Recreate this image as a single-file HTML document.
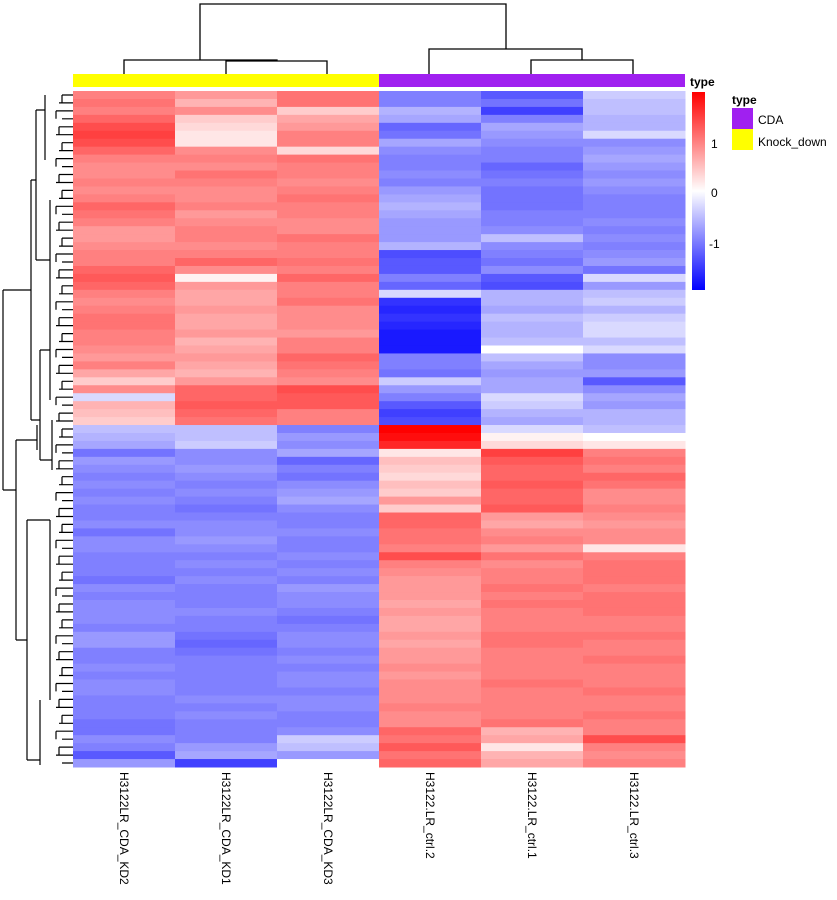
<!DOCTYPE html>
<html><head><meta charset="utf-8"><style>
html,body{margin:0;padding:0;background:#fff;}
svg{display:block;font-family:"Liberation Sans",Arial,sans-serif;}
</style></head><body>
<svg id="chart" width="837" height="900" viewBox="0 0 837 900" xmlns="http://www.w3.org/2000/svg">
<g id="coldend" stroke="#000" stroke-width="1.3" fill="none">
<path d="M124 74V60H277V61 M226 74V61H327V74 M200 60V4H506V49 M429 74V49H582V60 M531 74V60H633V74"/>
</g>
<rect x="73" y="74" width="306" height="13" fill="#ffff00"/>
<rect x="379" y="74" width="306" height="13" fill="#a020f0"/>
<g id="cells"></g>
<g id="rowdend" stroke="#000" stroke-width="1.2" fill="none"></g>
<g id="collabels"></g>
<g>
<text x="690" y="86" font-size="12" font-weight="bold">type</text>
<defs><linearGradient id="cg" x1="0" y1="0" x2="0" y2="1"><stop offset="0" stop-color="#ff0000"/><stop offset="0.5" stop-color="#ffffff"/><stop offset="1" stop-color="#0000ff"/></linearGradient></defs>
<rect x="692" y="92" width="13" height="198" fill="url(#cg)"/>
<text x="711" y="148" font-size="12">1</text>
<text x="711" y="197" font-size="12">0</text>
<text x="709" y="248" font-size="12">-1</text>
</g>
<g>
<text x="732" y="104" font-size="12" font-weight="bold">type</text>
<rect x="732" y="108" width="21" height="21" fill="#a020f0"/>
<rect x="732" y="129" width="21" height="21" fill="#ffff00"/>
<text x="758" y="124" font-size="12">CDA</text>
<text x="758" y="146" font-size="12">Knock_down</text>
</g>
</svg>
<script>
const columns = ["H3122LR_CDA_KD2","H3122LR_CDA_KD1","H3122LR_CDA_KD3","H3122.LR_ctrl.2","H3122.LR_ctrl.1","H3122.LR_ctrl.3"];
const kd2 = [1.0,1.1,1.0,1.2,1.4,1.5,1.4,1.2,1.0,0.9, 0.9,1.0,0.9,1.0,1.2,1.1,1.0,0.8,0.8,0.9, 1.0,1.0,1.2,1.3,1.2,1.0,0.9,1.0,1.1,1.1, 1.0,1.0,0.9,0.8,1.0,0.7,0.4,0.9,-0.3,0.6, 0.5,0.4,-0.5,-0.6,-0.7,-1.1,-0.8,-0.9,-1.0,-0.9, -1.0,-0.9,-1.0,-1.0,-0.9,-1.1,-0.9,-0.9,-1.0,-1.0, -1.0,-1.1,-0.9,-1.0,-0.9,-0.9,-0.9,-1.0,-0.8,-0.8, -1.0,-1.0,-0.9,-1.0,-0.9,-0.9,-1.0,-1.0,-1.0,-1.1, -1.1,-0.9,-1.0,-1.3,-0.8];
const kd1 = [0.8,0.6,0.9,0.4,0.3,0.2,0.2,0.9,1.0,0.9, 1.1,1.0,0.9,0.9,1.0,0.8,0.9,1.0,1.0,0.9, 1.0,1.2,0.9,0.1,0.8,0.7,0.7,0.8,0.7,0.7, 0.8,0.6,0.7,0.8,0.7,0.6,0.8,1.2,1.2,1.3, 1.2,1.1,-0.5,-0.5,-0.4,-0.9,-0.9,-0.8,-0.9,-1.0, -0.9,-1.0,-1.1,-1.0,-0.9,-0.9,-0.8,-0.9,-1.0,-0.9, -1.0,-0.9,-1.0,-1.0,-1.0,-0.9,-1.0,-1.0,-1.1,-1.2, -1.1,-1.0,-1.0,-1.0,-1.0,-1.0,-0.9,-1.0,-0.9,-1.0, -1.0,-1.0,-0.8,-0.7,-1.5];
const kd3 = [1.1,1.1,0.4,0.7,0.8,1.0,1.0,0.3,1.1,1.0, 1.0,0.9,1.0,1.1,1.0,1.0,0.9,0.9,1.1,1.0, 1.0,1.1,1.0,1.2,1.0,1.0,1.1,0.9,0.9,0.9, 0.8,1.0,1.0,1.2,1.1,1.0,0.9,1.4,1.3,1.3, 1.0,1.0,-1.0,-0.8,-0.9,-0.7,-1.2,-1.0,-1.1,-0.9, -0.8,-0.7,-0.9,-1.0,-1.0,-0.9,-1.0,-1.0,-0.9,-1.0, -0.9,-1.0,-0.8,-0.9,-0.9,-1.0,-1.1,-1.0,-0.9,-0.9, -1.0,-0.9,-1.0,-0.9,-0.9,-1.0,-0.9,-0.9,-1.0,-1.0, -0.9,-0.4,-0.5,-0.8,0.0];
const ctrl2 = [-1.0,-1.0,-0.6,-0.7,-1.2,-1.1,-0.7,-0.9,-1.0,-1.0, -0.9,-1.0,-0.8,-0.7,-0.6,-0.7,-0.8,-0.8,-0.8,-0.6, -1.4,-1.3,-1.3,-1.0,-1.2,-0.3,-1.6,-1.7,-1.6,-1.7, -1.8,-1.8,-1.8,-1.0,-1.0,-1.1,-0.4,-0.8,-1.0,-1.3, -1.5,-1.4,2.0,1.9,1.7,0.2,0.5,0.4,0.3,0.5, 0.4,0.8,0.4,1.2,1.2,1.1,1.1,1.0,1.4,1.0, 0.9,0.8,0.8,0.8,0.7,0.8,0.7,0.7,0.8,0.7, 0.8,0.8,0.9,0.8,0.9,0.9,0.9,1.0,0.9,0.9, 1.2,1.1,1.3,1.1,1.2];
const ctrl1 = [-1.3,-1.1,-1.5,-1.0,-0.7,-0.8,-0.9,-1.0,-1.0,-1.2, -1.1,-1.0,-1.1,-1.1,-1.1,-1.0,-1.0,-0.9,-0.5,-0.9, -1.0,-1.1,-0.9,-1.3,-1.4,-0.6,-0.6,-0.7,-0.5,-0.6, -0.6,-0.5,0.0,-0.5,-0.7,-0.8,-0.7,-0.7,-0.3,-0.4, -0.6,-0.7,-0.3,0.1,0.3,1.5,1.3,1.2,1.2,1.3, 1.2,1.2,1.3,0.8,0.7,0.9,1.0,0.8,1.1,0.9, 1.0,1.0,1.1,1.0,1.1,1.0,1.0,1.0,1.1,1.1, 1.0,1.0,1.0,1.0,1.1,1.0,1.0,1.0,1.0,1.1, 0.6,0.7,0.2,0.6,0.7];
const ctrl3 = [-0.4,-0.5,-0.5,-0.6,-0.6,-0.3,-0.9,-0.8,-0.7,-0.8, -0.9,-0.8,-0.9,-1.0,-1.0,-1.0,-0.9,-1.0,-0.9,-1.0, -0.9,-0.8,-1.1,-0.3,-0.8,-0.5,-0.4,-0.6,-0.4,-0.3, -0.3,-0.5,-0.3,-0.9,-0.9,-0.8,-1.3,-0.9,-0.7,-0.8, -0.6,-0.6,-0.5,0.0,0.2,1.0,1.1,1.0,1.2,1.1, 0.9,0.9,1.0,0.9,0.8,0.9,0.9,0.2,1.0,1.1, 1.1,1.1,1.0,1.1,1.1,1.1,1.0,1.0,1.1,1.0, 1.0,1.1,1.0,1.0,1.0,1.1,1.0,1.0,1.1,1.0, 1.0,1.4,1.0,0.9,1.0];
const series = [kd2, kd1, kd3, ctrl2, ctrl1, ctrl3];

const NS = "http://www.w3.org/2000/svg";
const X0 = 73, X1 = 685, Y0 = 91, Y1 = 767;
const nRows = kd2.length;
const colW = (X1 - X0) / columns.length;
const rowH = (Y1 - Y0) / nRows;
function xPos(c){ return X0 + c * colW; }
function yPos(r){ return Y0 + r * rowH; }
function color(v){
  let t = Math.max(-2, Math.min(2, v)) / 2;
  let r, g, b;
  if (t >= 0) { r = 255; g = Math.round(255 * (1 - t)); b = g; }
  else { b = 255; r = Math.round(255 * (1 + t)); g = r; }
  return "rgb(" + r + "," + g + "," + b + ")";
}
const cells = document.getElementById("cells");
series.forEach((vals, c) => {
  vals.forEach((v, r) => {
    const rect = document.createElementNS(NS, "rect");
    rect.setAttribute("x", xPos(c));
    rect.setAttribute("y", yPos(r));
    rect.setAttribute("width", colW + 0.5);
    rect.setAttribute("height", rowH + 0.5);
    rect.setAttribute("fill", color(v));
    
    
    cells.appendChild(rect);
  });
});
// column labels
const cl = document.getElementById("collabels");
columns.forEach((name, c) => {
  const t = document.createElementNS(NS, "text");
  const cx = xPos(c) + colW / 2 - 4;
  t.setAttribute("x", cx);
  t.setAttribute("y", 772);
  t.setAttribute("font-size", "12");
  t.setAttribute("transform", "rotate(90 " + cx + " 772)");
  t.textContent = name;
  
  
  cl.appendChild(t);
});
// row dendrogram (simplified)
const rd = document.getElementById("rowdend");
let d = "";
for (let r = 0; r < nRows; r++) {
  const y = yPos(r) + rowH / 2;
  d += "M73 " + y.toFixed(1) + "H" + (62 - (r % 3) * 3) + " ";
  if (r % 2 === 0 && r + 1 < nRows) {
    const y2 = yPos(r + 1) + rowH / 2;
    d += "M" + (62 - (r % 3) * 3) + " " + y.toFixed(1) + "V" + y2.toFixed(1) + " ";
  }
}
d += "M3 290V490 M3 290H31 M3 490H16 M31 180V420 M31 180H36 M31 420H40 M36 110V260 M16 440V640 M16 440H37 M16 640H27 M27 520V760 M27 520H50 M27 760H40 M36 110H45 M36 260H50 M40 350V460 M40 350H50 M40 460H52 M37 425V450 M45 95V160 M50 200V330 M50 330V400 M52 420V470 M50 520V700 M40 700V765";
const p = document.createElementNS(NS, "path");
p.setAttribute("d", d);


rd.appendChild(p);
</script>
</body></html>
